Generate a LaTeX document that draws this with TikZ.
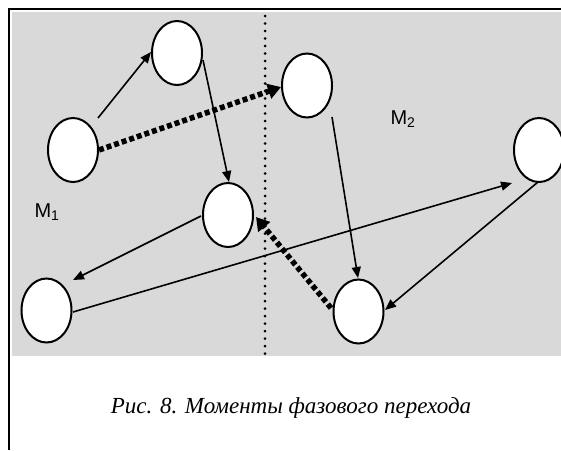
\documentclass[tikz,border=0pt]{standalone}
\usepackage{fontspec}
\setmainfont{Liberation Serif}
\newfontfamily\labelfont{Liberation Sans}
\usetikzlibrary{arrows.meta,shapes.geometric}
\definecolor{panel}{RGB}{217,217,217}
\tikzset{
  state/.style={ellipse, draw=black, line width=2pt, fill=white,
    minimum width=50pt, minimum height=64pt, inner sep=0pt},
  move/.style={line width=1.6pt, -{Triangle[length=11pt,width=9pt]}},
  jump/.style={line width=5.5pt, dash pattern=on 5pt off 3pt,
    -{Triangle[length=13pt,width=15pt,sep=0pt]}},
  zone/.style={font=\labelfont\fontsize{20}{24}\selectfont},
}
\begin{document}
\begin{tikzpicture}[x=1pt,y=-1pt]
\useasboundingbox (0,0) rectangle (561,450);
% grey panel and its frame
\fill[white] (0,0) rectangle (561,450);
\fill[panel] (12,12) rectangle (561,356);
\draw[line width=2pt] (9,450) -- (9,9) -- (561,9);
% phase boundary
\draw[line width=3pt, line cap=round, dash pattern=on 0pt off 7.5pt] (265,16) -- (265,357);
% states
\node[state] (A) at (73,150) {};
\node[state] (B) at (177,53) {};
\node[state] (C) at (307,85.5) {};
\node[state] (D) at (539,150) {};
\node[state] (E) at (228,215) {};
\node[state] (F) at (46.5,310.5) {};
\node[state] (G) at (358.5,311.5) {};
% phase labels
\node[zone] (m1) at (47,212) {M\textsubscript{1}};
\node[zone] (m2) at (403,119) {M\textsubscript{2}};
% transitions inside a phase
\draw[move] ([shift={(25,-32)}]A.center) -- ([shift={(-26,-1)}]B.center);
\draw[move] ([shift={(26,7)}]B.center) -- ([shift={(1,-33)}]E.center);
\draw[move] ([shift={(25,31.5)}]C.center) -- ([shift={(-0.5,-33.5)}]G.center);
\draw[move] ([shift={(-27,1)}]E.center) -- ([shift={(26.5,-30.5)}]F.center);
\draw[move] ([shift={(26.5,1.5)}]F.center) -- ([shift={(-27,33)}]D.center);
\draw[move] ([shift={(-1,32)}]D.center) -- ([shift={(26.5,-1.5)}]G.center);
% transitions across the boundary
\draw[jump] ([shift={(26,0)}]A.center) -- ([shift={(-26,1.5)}]C.center);
\draw[jump] ([shift={(-27.5,-3.5)}]G.center) -- ([shift={(28,2)}]E.center);
% caption
\node[font=\itshape\fontsize{23}{28}\selectfont] (cap) at (291,408) {Рис. 8. Моменты фазового перехода};
\end{tikzpicture}
\end{document}
